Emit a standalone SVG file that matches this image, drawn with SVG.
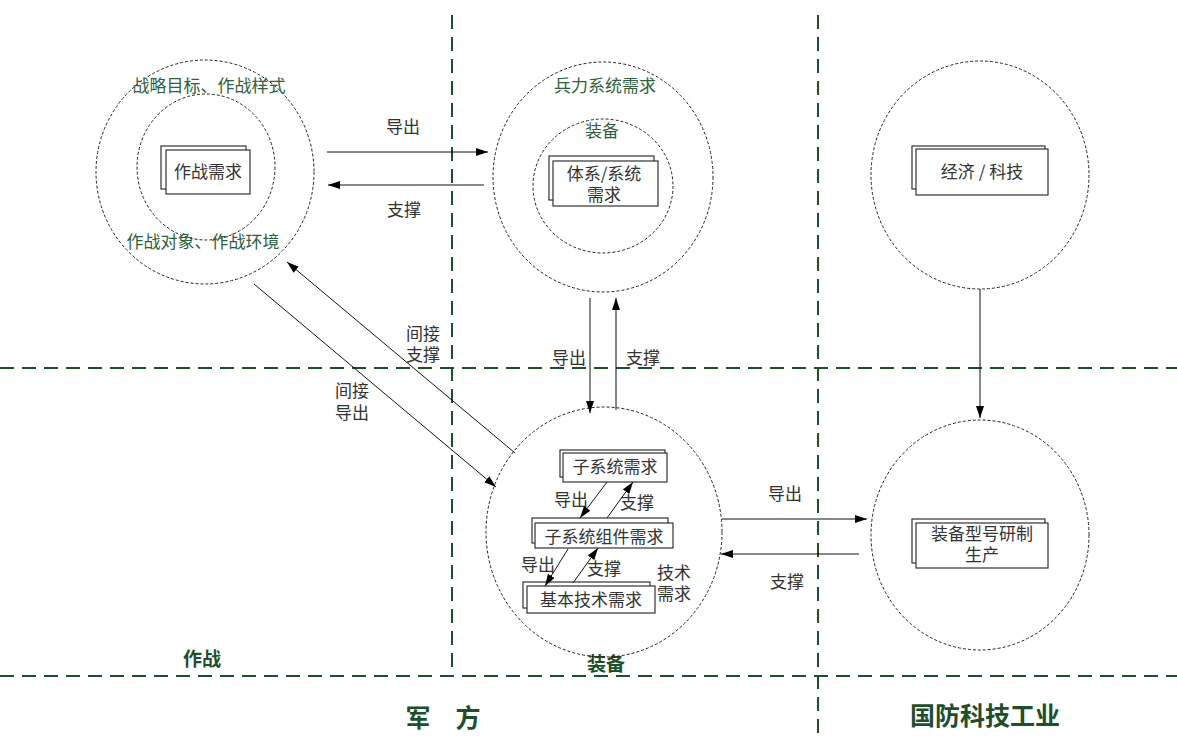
<svg xmlns="http://www.w3.org/2000/svg" width="1177" height="738" viewBox="0 0 1177 738">
<style>
.bg{fill:#fff}
.ring{fill:none;stroke:#222;stroke-width:1;stroke-dasharray:3 2}
.box{fill:#fff;stroke:#333;stroke-width:1.2}
.t{font-family:"Noto Sans CJK SC","Liberation Sans",sans-serif;font-size:17px;fill:#333;text-anchor:middle}
.g{font-family:"Noto Sans CJK SC","Liberation Sans",sans-serif;font-size:17px;fill:#2f6040;text-anchor:middle}
.lab{font-family:"Noto Sans CJK SC","Liberation Sans",sans-serif;font-weight:bold;fill:#1f4e2c;text-anchor:middle}
.zone{stroke:#1f4e2c;stroke-width:2;stroke-dasharray:14 8;fill:none}
.c{stroke:#111;stroke-width:1;fill:none;marker-end:url(#ah)}
</style>
<defs>
<marker id="ah" viewBox="0 0 12 8" refX="12" refY="4" markerWidth="12" markerHeight="8" markerUnits="userSpaceOnUse" orient="auto">
<path d="M0,0 L12,4 L0,8 Z" fill="#000"/>
</marker>
</defs>
<rect class="bg" x="0" y="0" width="1177" height="738"/>

<g id="zones">
<line class="zone" x1="0" y1="368" x2="1177" y2="368"/>
<line class="zone" x1="0" y1="676" x2="1177" y2="676"/>
<line class="zone" x1="452" y1="15" x2="452" y2="668"/>
<line class="zone" x1="818" y1="15" x2="818" y2="738"/>
<text class="lab" x="202" y="666" font-size="19">作战</text>
<text class="lab" x="606" y="671" font-size="19">装备</text>
<text class="lab" x="443" y="727" font-size="25">军　方</text>
<text class="lab" x="985" y="725" font-size="25">国防科技工业</text>
</g>

<g id="node-combat">
<ellipse class="ring" cx="205" cy="172" rx="109" ry="112"/>
<ellipse class="ring" cx="206" cy="167" rx="69" ry="73"/>
<text class="g" x="209" y="92">战略目标、作战样式</text>
<text class="g" x="203" y="248">作战对象、作战环境</text>
<rect class="box" x="161" y="146" width="85" height="43"/>
<rect class="box" x="166" y="150" width="84" height="44"/>
<text class="t" x="208" y="178">作战需求</text>
</g>

<g id="node-force">
<ellipse class="ring" cx="603" cy="177" rx="110" ry="115"/>
<ellipse class="ring" cx="603" cy="186" rx="70" ry="67"/>
<text class="g" x="605" y="92">兵力系统需求</text>
<text class="g" x="602" y="137">装备</text>
<rect class="box" x="549" y="156" width="105" height="44"/>
<rect class="box" x="553" y="161" width="105" height="45"/>
<text class="t" x="604" y="180">体系/系统</text>
<text class="t" x="604" y="201">需求</text>
</g>

<g id="node-economy">
<ellipse class="ring" cx="980" cy="175" rx="109" ry="114"/>
<rect class="box" x="912" y="146" width="133" height="43"/>
<rect class="box" x="916" y="149" width="132" height="46"/>
<text class="t" x="982" y="178">经济 / 科技</text>
</g>

<g id="node-industry">
<ellipse class="ring" cx="980" cy="535" rx="109" ry="115"/>
<rect class="box" x="912" y="519" width="133" height="44"/>
<rect class="box" x="916" y="523" width="132" height="45"/>
<text class="t" x="982" y="540">装备型号研制</text>
<text class="t" x="982" y="561">生产</text>
</g>

<g id="node-equipment">
<ellipse class="ring" cx="604" cy="532" rx="118" ry="125"/>
<rect class="box" x="560" y="450" width="105" height="27"/>
<rect class="box" x="563" y="453" width="104" height="29"/>
<text class="t" x="615" y="473">子系统需求</text>
<rect class="box" x="532" y="518" width="136" height="25"/>
<rect class="box" x="535" y="523" width="138" height="25"/>
<text class="t" x="604" y="543">子系统组件需求</text>
<rect class="box" x="523" y="582" width="127" height="26"/>
<rect class="box" x="527" y="586" width="128" height="27"/>
<text class="t" x="591" y="606">基本技术需求</text>
<text class="t" x="674" y="579">技术</text>
<text class="t" x="674" y="600">需求</text>
<text class="t" x="571" y="506">导出</text>
<text class="t" x="637" y="509">支撑</text>
<text class="t" x="538" y="571">导出</text>
<text class="t" x="604" y="575">支撑</text>
</g>

<g id="connectors">
<line class="c" x1="327" y1="152" x2="488" y2="152"/>
<line class="c" x1="484" y1="185" x2="328" y2="185"/>
<text class="t" x="403" y="133">导出</text>
<text class="t" x="404" y="216">支撑</text>

<line class="c" x1="590" y1="298" x2="590" y2="413"/>
<line class="c" x1="616" y1="410" x2="616" y2="298"/>
<text class="t" x="569" y="364">导出</text>
<text class="t" x="643" y="364">支撑</text>

<line class="c" x1="254" y1="284" x2="496" y2="487"/>
<line class="c" x1="515" y1="453" x2="287" y2="262"/>
<text class="t" x="423" y="340">间接</text>
<text class="t" x="423" y="361">支撑</text>
<text class="t" x="352" y="397">间接</text>
<text class="t" x="352" y="419">导出</text>

<line class="c" x1="980" y1="289" x2="980" y2="418"/>

<line class="c" x1="722" y1="519" x2="867" y2="519"/>
<line class="c" x1="859" y1="554" x2="721" y2="554"/>
<text class="t" x="785" y="500">导出</text>
<text class="t" x="787" y="588">支撑</text>

<line class="c" x1="607" y1="482" x2="580" y2="518"/>
<line class="c" x1="607" y1="518" x2="633" y2="482"/>
<line class="c" x1="568" y1="549" x2="545" y2="586"/>
<line class="c" x1="573" y1="583" x2="598" y2="548"/>
</g>
</svg>
